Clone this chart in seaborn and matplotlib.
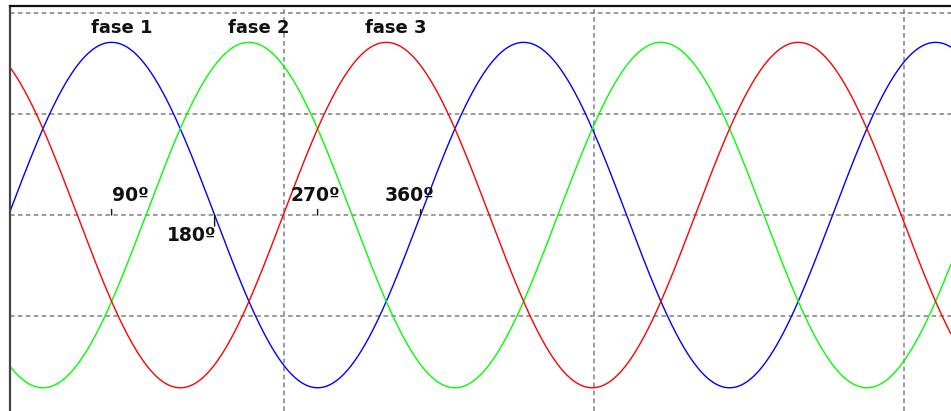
import numpy as np
import pandas as pd
import matplotlib
matplotlib.use("Agg")
import matplotlib.pyplot as plt
import seaborn as sns

# phases
phase_names = ["fase 1", "fase 2", "fase 3"]
phase_shift = [0, 120, 240]          # degrees of lag
phase_colors = ["#0000ff", "#00ff00", "#ff0000"]
amplitude = 1.71                     # in grid units
angle_marks = [90, 180, 270, 360]
angle_labels = ["90º", "180º", "270º", "360º"]

x_min, x_max = 1.2, 823.5
y_min, y_max = -1.94, 2.07

theta = np.linspace(x_min, x_max, 1600)
rows = []
for name, shift in zip(phase_names, phase_shift):
    rows.append(pd.DataFrame({
        "grau": theta,
        "v": amplitude * np.sin(np.radians(theta - shift)),
        "fase": name,
    }))
df = pd.concat(rows, ignore_index=True)

sns.set_style("white")
plt.rcParams['font.family'] = ['DejaVu Sans']

fig = plt.figure(figsize=(9.51, 4.11), dpi=100)
ax = fig.add_axes([10 / 951, 0, 941 / 951, 405 / 411])

sns.lineplot(data=df, x="grau", y="v", hue="fase", palette=phase_colors,
             linewidth=1.0, legend=False, ax=ax, sort=False)

ax.set_xlim(x_min, x_max)
ax.set_ylim(y_min, y_max)
ax.set_xticks([240.5, 511.5, 782.5])
ax.set_yticks([-1, 0, 1, 2])
ax.tick_params(length=0, labelbottom=False, labelleft=False)
ax.set_xlabel("")
ax.set_ylabel("")
ax.grid(True, color="#808080", linestyle=(0, (3, 2.2)), linewidth=1.1)

for s in ["right", "bottom"]:
    ax.spines[s].set_visible(False)
ax.spines["left"].set_color("#444444")
ax.spines["left"].set_linewidth(1.6)
ax.spines["top"].set_color("#111111")
ax.spines["top"].set_linewidth(1.6)

# phase names above each peak
for name, shift in zip(phase_names, phase_shift):
    ax.annotate(name, xy=(shift + 90, amplitude), xytext=(7, 3.5),
                textcoords="offset points", ha="center", va="bottom",
                fontsize=13, fontweight="bold", color="#111111")

# angle markers on the zero line
label_style = {
    90: dict(tick=4, off=(0, 7), ha="left", va="bottom"),
    180: dict(tick=-8, off=(1, -8), ha="right", va="top"),
    270: dict(tick=4, off=(-2, 7), ha="center", va="bottom"),
    360: dict(tick=4, off=(10, 7), ha="right", va="bottom"),
}
for ang, lab in zip(angle_marks, angle_labels):
    st = label_style[ang]
    ax.annotate("", xy=(ang, 0), xytext=(0, st["tick"]), textcoords="offset points",
                arrowprops=dict(arrowstyle="-", color="#111111", lw=1.0,
                                shrinkA=0, shrinkB=0))
    ax.annotate(lab, xy=(ang, 0), xytext=st["off"], textcoords="offset points",
                ha=st["ha"], va=st["va"], fontsize=13.5, fontweight="bold",
                color="#111111")

fig.savefig("out.png", dpi=100)
